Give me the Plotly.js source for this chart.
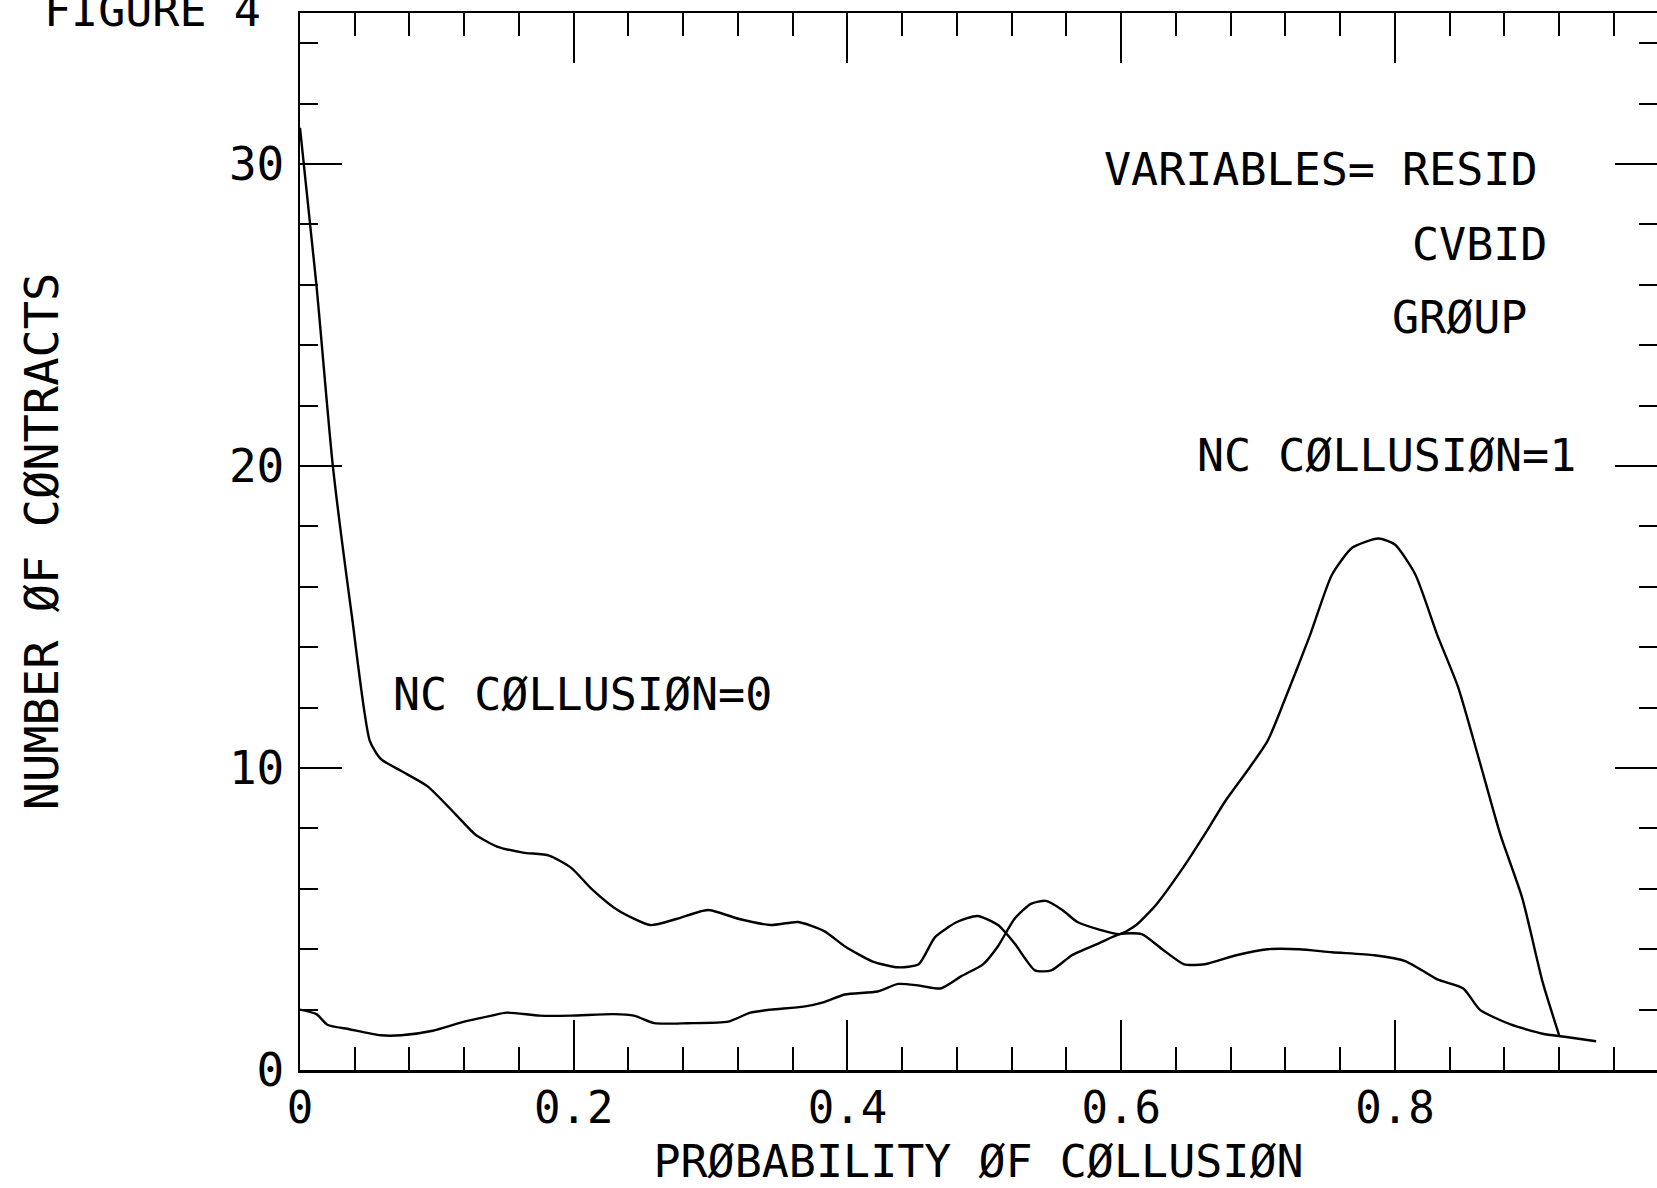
<!DOCTYPE html>
<html>
<head>
<meta charset="utf-8">
<script src="https://cdn.plot.ly/plotly-3.0.1.min.js"></script>
<style>html,body{margin:0;padding:0;background:#fff;}#chart{width:1657px;height:1188px;}</style>
</head>
<body>
<div id="chart"></div>
<script>
// Probability of collusion (x) and number of contracts (y)
const x0 = [0, 0.012, 0.024, 0.038, 0.051, 0.059, 0.074, 0.093, 0.113, 0.128, 0.144, 0.163, 0.182, 0.198, 0.213, 0.232, 0.256, 0.275, 0.298, 0.321, 0.344, 0.364, 0.383, 0.398, 0.418, 0.437, 0.452, 0.464, 0.480, 0.495, 0.510, 0.522, 0.537, 0.549, 0.564, 0.584, 0.599, 0.615, 0.630, 0.646, 0.661, 0.684, 0.707, 0.730, 0.754, 0.785, 0.808, 0.831, 0.850, 0.862, 0.885, 0.908, 0.924, 0.947];
const y0 = [31.2, 26, 20, 15, 10.9, 10.3, 9.9, 9.4, 8.5, 7.8, 7.4, 7.2, 7.1, 6.7, 6.0, 5.3, 4.8, 5.0, 5.3, 5.0, 4.8, 4.9, 4.6, 4.1, 3.6, 3.4, 3.5, 4.4, 4.9, 5.1, 4.8, 4.2, 3.3, 3.3, 3.8, 4.2, 4.5, 4.5, 4.0, 3.5, 3.5, 3.8, 4.0, 4.0, 3.9, 3.8, 3.6, 3.0, 2.7, 2.0, 1.5, 1.2, 1.1, 0.95];
const x1 = [0, 0.012, 0.02, 0.036, 0.059, 0.074, 0.097, 0.12, 0.14, 0.151, 0.175, 0.198, 0.229, 0.244, 0.259, 0.283, 0.313, 0.329, 0.344, 0.368, 0.383, 0.398, 0.422, 0.437, 0.452, 0.468, 0.483, 0.499, 0.510, 0.522, 0.534, 0.545, 0.557, 0.568, 0.584, 0.599, 0.611, 0.626, 0.646, 0.661, 0.676, 0.692, 0.707, 0.719, 0.738, 0.754, 0.769, 0.788, 0.800, 0.815, 0.831, 0.846, 0.862, 0.877, 0.893, 0.908, 0.920];
const y1 = [2.0, 1.85, 1.5, 1.35, 1.15, 1.15, 1.3, 1.6, 1.8, 1.9, 1.8, 1.8, 1.85, 1.8, 1.55, 1.55, 1.6, 1.9, 2.0, 2.1, 2.25, 2.5, 2.6, 2.85, 2.8, 2.7, 3.1, 3.5, 4.1, 5.0, 5.5, 5.6, 5.3, 4.9, 4.65, 4.5, 4.8, 5.5, 6.75, 7.8, 8.9, 9.9, 10.9, 12.2, 14.4, 16.4, 17.3, 17.6, 17.4, 16.4, 14.4, 12.7, 10.2, 7.8, 5.7, 2.9, 1.15];
const xTicks = [0, 0.2, 0.4, 0.6, 0.8];
const xTickText = ["0", "0.2", "0.4", "0.6", "0.8"];
const yTicks = [0, 10, 20, 30];
const yTickText = ["0", "10", "20", "30"];
const variableLines = ["VARIABLES= RESID", "CVBID", "GRØUP"];
const seriesLabels = ["NC CØLLUSIØN=0", "NC CØLLUSIØN=1"];

const FONT = "DejaVu Sans Mono, Liberation Mono, monospace";
const lineStyle = {color: "#000", width: 2.4, shape: "spline", smoothing: 0.6};

const traces = [
  {x: x0, y: y0, mode: "lines", line: lineStyle, name: seriesLabels[0], hoverinfo: "skip"},
  {x: x1, y: y1, mode: "lines", line: lineStyle, name: seriesLabels[1], hoverinfo: "skip"}
];

function ann(text, x, y, xanchor) {
  return {text: text, x: x, y: y, xref: "paper", yref: "paper", xanchor: xanchor, yanchor: "middle",
          showarrow: false, font: {family: FONT, size: 45, color: "#000"}};
}
// plot area: x from 300 to 1657 px, y from 13 to 1070 px
const W = 1357, H = 1057, L = 300, T = 13;
function px(p) { return (p - L) / W; }
function py(p) { return (T + H - p) / H; }

const layout = {
  width: 1657, height: 1188,
  margin: {l: 300, r: 0, t: 13, b: 118, pad: 0},
  paper_bgcolor: "#fff", plot_bgcolor: "#fff",
  showlegend: false,
  font: {family: FONT, color: "#000"},
  xaxis: {
    range: [0, 0.9915], tickvals: xTicks, ticktext: xTickText,
    ticks: "inside", ticklen: 50, tickwidth: 2, tickcolor: "#000",
    minor: {dtick: 0.04, tick0: 0, ticks: "inside", ticklen: 23, tickwidth: 2, tickcolor: "#000"},
    showline: true, linecolor: "#000", linewidth: 2.5, mirror: "ticks",
    showgrid: false, zeroline: false,
    tickfont: {family: FONT, size: 44, color: "#000"},
    ticklabelstandoff: -2,
    title: {text: "PRØBABILITY ØF CØLLUSIØN", font: {family: FONT, size: 45, color: "#000"}, standoff: 14},
    automargin: false
  },
  yaxis: {
    range: [0, 35], tickvals: yTicks, ticktext: yTickText,
    ticks: "inside", ticklen: 42, tickwidth: 2, tickcolor: "#000",
    minor: {dtick: 2, tick0: 0, ticks: "inside", ticklen: 18, tickwidth: 2, tickcolor: "#000"},
    showline: true, linecolor: "#000", linewidth: 2.5, mirror: "ticks",
    showgrid: false, zeroline: false,
    tickfont: {family: FONT, size: 46, color: "#000"},
    ticklabelstandoff: 4,
    title: {text: "NUMBER ØF CØNTRACTS", font: {family: FONT, size: 47, color: "#000"}, standoff: 156},
    automargin: false
  },
  annotations: [
    ann(variableLines[0], px(1539), py(169), "right"),
    ann(variableLines[1], px(1549), py(245), "right"),
    ann(variableLines[2], px(1529), py(317), "right"),
    ann(seriesLabels[1], px(1578), py(455), "right"),
    ann(seriesLabels[0], px(391), py(694), "left"),
    ann("FIGURE 4", px(42), py(10), "left")
  ]
};

Plotly.newPlot("chart", traces, layout, {staticPlot: true, displayModeBar: false});
</script>
</body>
</html>
